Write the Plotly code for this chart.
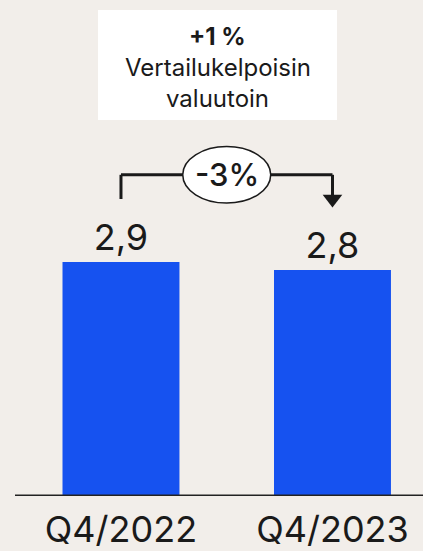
import plotly.graph_objects as go

# data
categories = ["Q4/2022", "Q4/2023"]
values = [2.9, 2.8]
change_label = "-3%"
box_lines = ["<b>+1 %</b>", "Vertailukelpoisin", "valuutoin"]

bg = "#F2EEEA"
blue = "#1652F0"
ink = "#1a1a1a"
font = "Inter, Roboto, sans-serif"

# bracket heights keyed off the tallest bar
top = max(values)
bracket_y = top + 1.08
left_end = top + 0.78
arrow_y = top + 0.78

fig = go.Figure()

fig.add_trace(go.Bar(
    x=[0, 1], y=values, width=0.553,
    marker=dict(color=blue, line=dict(width=0)),
    texttemplate="%{y:.1f}", textposition="outside",
    textfont=dict(size=36, color=ink, family=font),
    cliponaxis=False, hoverinfo="skip",
))

# arrow head on the right leg
fig.add_trace(go.Scatter(
    x=[1], y=[arrow_y], mode="markers",
    marker=dict(symbol="triangle-down", size=17, color=ink),
    hoverinfo="skip", cliponaxis=False,
))

line = dict(color=ink, width=3)
fig.add_shape(type="line", x0=0, x1=0, y0=left_end, y1=bracket_y, line=line)
fig.add_shape(type="line", x0=0, x1=1, y0=bracket_y, y1=bracket_y, line=line)
fig.add_shape(type="line", x0=1, x1=1, y0=bracket_y, y1=arrow_y, line=line)
fig.add_shape(type="circle", x0=0.292, x1=0.708, y0=bracket_y - 0.35, y1=bracket_y + 0.35,
              fillcolor="white", line=dict(color=ink, width=1.5))
fig.add_annotation(x=0.5, y=bracket_y, text=change_label, showarrow=False,
                   font=dict(size=31, color=ink, family=font, weight=500))

# baseline
fig.add_shape(type="line", xref="paper", x0=15 / 423, x1=1, y0=0, y1=0,
              line=dict(color="#222222", width=3))

# white note box
fig.add_shape(type="rect", xref="paper", yref="paper", x0=98 / 423, x1=337 / 423,
              y0=(496 - 120) / 496, y1=(496 - 10) / 496,
              fillcolor="white", line=dict(width=0), layer="below")
for txt, py in zip(box_lines, [36, 67, 98]):
    fig.add_annotation(xref="paper", yref="paper", x=217.5 / 423, y=(496 - py) / 496,
                       text=txt, showarrow=False, yanchor="middle",
                       font=dict(size=24, color=ink, family=font))

fig.update_layout(
    width=423, height=551,
    margin=dict(l=0, r=0, t=0, b=55),
    paper_bgcolor=bg, plot_bgcolor=bg,
    separators=", ",
    showlegend=False,
    xaxis=dict(range=[-0.572, 1.428], tickvals=[0, 1], ticktext=categories,
               tickfont=dict(size=36, color=ink, family=font), ticklabelstandoff=9,
               showgrid=False, zeroline=False, showline=False, ticks=""),
    yaxis=dict(range=[0, 496 / 80.7], visible=False, showgrid=False),
)

# drop the default page margin so the chart fills the window exactly
fig.write_html("out.html", config={"displayModeBar": False},
               post_script="document.body.style.margin='0';document.body.style.overflow='hidden';")
